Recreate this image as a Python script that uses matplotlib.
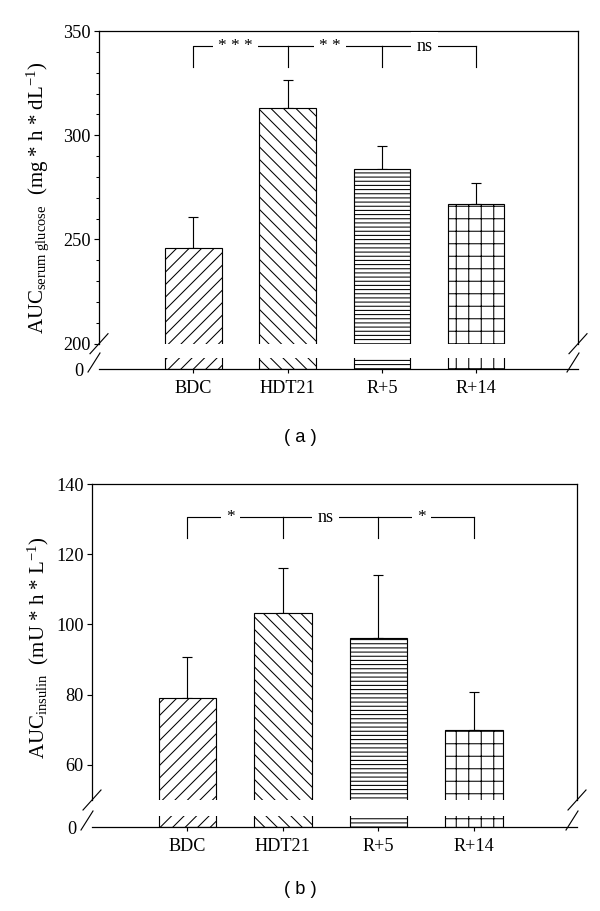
import numpy as np
import matplotlib
matplotlib.use("Agg")
import matplotlib.pyplot as plt
from matplotlib.lines import Line2D

plt.rcParams['font.family'] = ['Liberation Serif', 'DejaVu Serif']
plt.rcParams['mathtext.fontset'] = 'custom'
plt.rcParams['mathtext.rm'] = 'Liberation Serif'
plt.rcParams['mathtext.it'] = 'Liberation Serif:italic'
plt.rcParams['hatch.linewidth'] = 1.0

groups = ["BDC", "HDT21", "R+5", "R+14"]
hatches = ["//", "\\\\", "---", "+"]

# panel a: serum glucose AUC
glu_mean = [246, 313, 284, 267]
glu_err = [15, 13.5, 11, 10]
glu_sig = ["* * *", "* *", "ns"]

# panel b: insulin AUC
ins_mean = [79, 103.3, 96, 70]
ins_err = [11.8, 12.9, 18, 10.8]
ins_sig = ["*", "ns", "*"]

W, H = 600, 911
DPI = 75
FS = 17.5
fig = plt.figure(figsize=(W / DPI, H / DPI), dpi=DPI)


def fx(px):
    return px / W


def fy(py):
    return 1 - py / H


def slash(x0, y0, x1, y1):
    fig.add_artist(Line2D([fx(x0), fx(x1)], [fy(y0), fy(y1)], color="black",
                          lw=1.1, transform=fig.transFigure))


def panel(left, right, top, bot, strip_top, zero, ylim, yticks, minor,
          means, errs, sig, br_y, br_drop, ylabel, ylab_y, tag, tag_y):
    x = np.arange(len(groups))
    ax = fig.add_axes([fx(left), fy(bot), fx(right - left), (bot - top) / H])
    lo = fig.add_axes([fx(left), fy(zero), fx(right - left), (zero - strip_top) / H])
    for a in (ax, lo):
        a.bar(x, means, width=0.6, color="white", edgecolor="black",
              hatch=hatches, lw=1.1, zorder=2)
        a.set_xlim(-1.0, 4.08)
    ax.errorbar(x, means, yerr=[[0] * len(x), errs], fmt="none", ecolor="black",
                elinewidth=1.1, capsize=5, capthick=1.1, zorder=1)
    ax.set_ylim(*ylim)
    lo.set_ylim(0, 1)

    ax.spines["bottom"].set_visible(False)
    for s in ("top", "left", "right"):
        ax.spines[s].set_linewidth(1.2)
    ax.set_xticks([])
    ax.set_yticks(yticks)
    if minor:
        ax.set_yticks(np.arange(ylim[0], ylim[1] + 1, minor), minor=True)
    ax.tick_params(axis="y", which="major", direction="out", length=5, width=1.1,
                   labelsize=FS, pad=3)
    ax.tick_params(axis="y", which="minor", direction="out", length=3, width=1.0)

    for s in ("top", "left", "right"):
        lo.spines[s].set_visible(False)
    lo.spines["bottom"].set_linewidth(1.2)
    lo.set_yticks([0])
    lo.tick_params(axis="y", length=0, labelsize=FS, pad=15)
    lo.set_xticks(x)
    lo.set_xticklabels(groups)
    lo.tick_params(axis="x", direction="out", length=4, width=1.1, labelsize=FS, pad=7)

    # significance brackets
    for i, lab in enumerate(sig):
        ax.plot([x[i], x[i], x[i + 1]] if i == 0 else [x[i], x[i + 1]],
                [br_drop, br_y, br_y] if i == 0 else [br_y, br_y],
                color="black", lw=1.1, clip_on=False)
        ax.plot([x[i + 1], x[i + 1]], [br_y, br_drop], color="black", lw=1.1)
        ax.text((x[i] + x[i + 1]) / 2 - 0.05, br_y, lab, ha="center", va="center",
                fontsize=FS if lab == "ns" else FS - 1,
                bbox=dict(boxstyle="square,pad=0.3", fc="white", ec="none"), zorder=3)

    # axis breaks
    slash(left - 9, bot + 10, left + 9, bot - 10)
    slash(left - 11, zero + 3, left + 1, zero - 16)
    slash(right - 9, bot + 10, right + 9, bot - 10)
    slash(right - 11, zero + 3, right + 1, zero - 16)

    fig.text(fx(38), fy(ylab_y), ylabel, rotation=90, ha="center", va="center",
             fontsize=FS + 2.5)
    fig.text(fx(300), fy(tag_y), tag, ha="center", va="center", fontsize=FS,
             family=["Liberation Sans", "DejaVu Sans"])


panel(99, 578, 31, 343.7, 358, 369, (200, 350), [200, 250, 300, 350], 10,
      glu_mean, glu_err, glu_sig, 342.8, 332.7,
      r"AUC$_{\mathrm{serum\ glucose}}$  (mg * h * dL$^{-1}$)", 198, "( a )", 437)
panel(92, 577, 484, 800, 816, 827, (50, 140), [60, 80, 100, 120, 140], None,
      ins_mean, ins_err, ins_sig, 130.6, 124.6,
      r"AUC$_{\mathrm{insulin}}$  (mU * h * L$^{-1}$)", 648, "( b )", 890)

fig.savefig("out.png", dpi=DPI)
